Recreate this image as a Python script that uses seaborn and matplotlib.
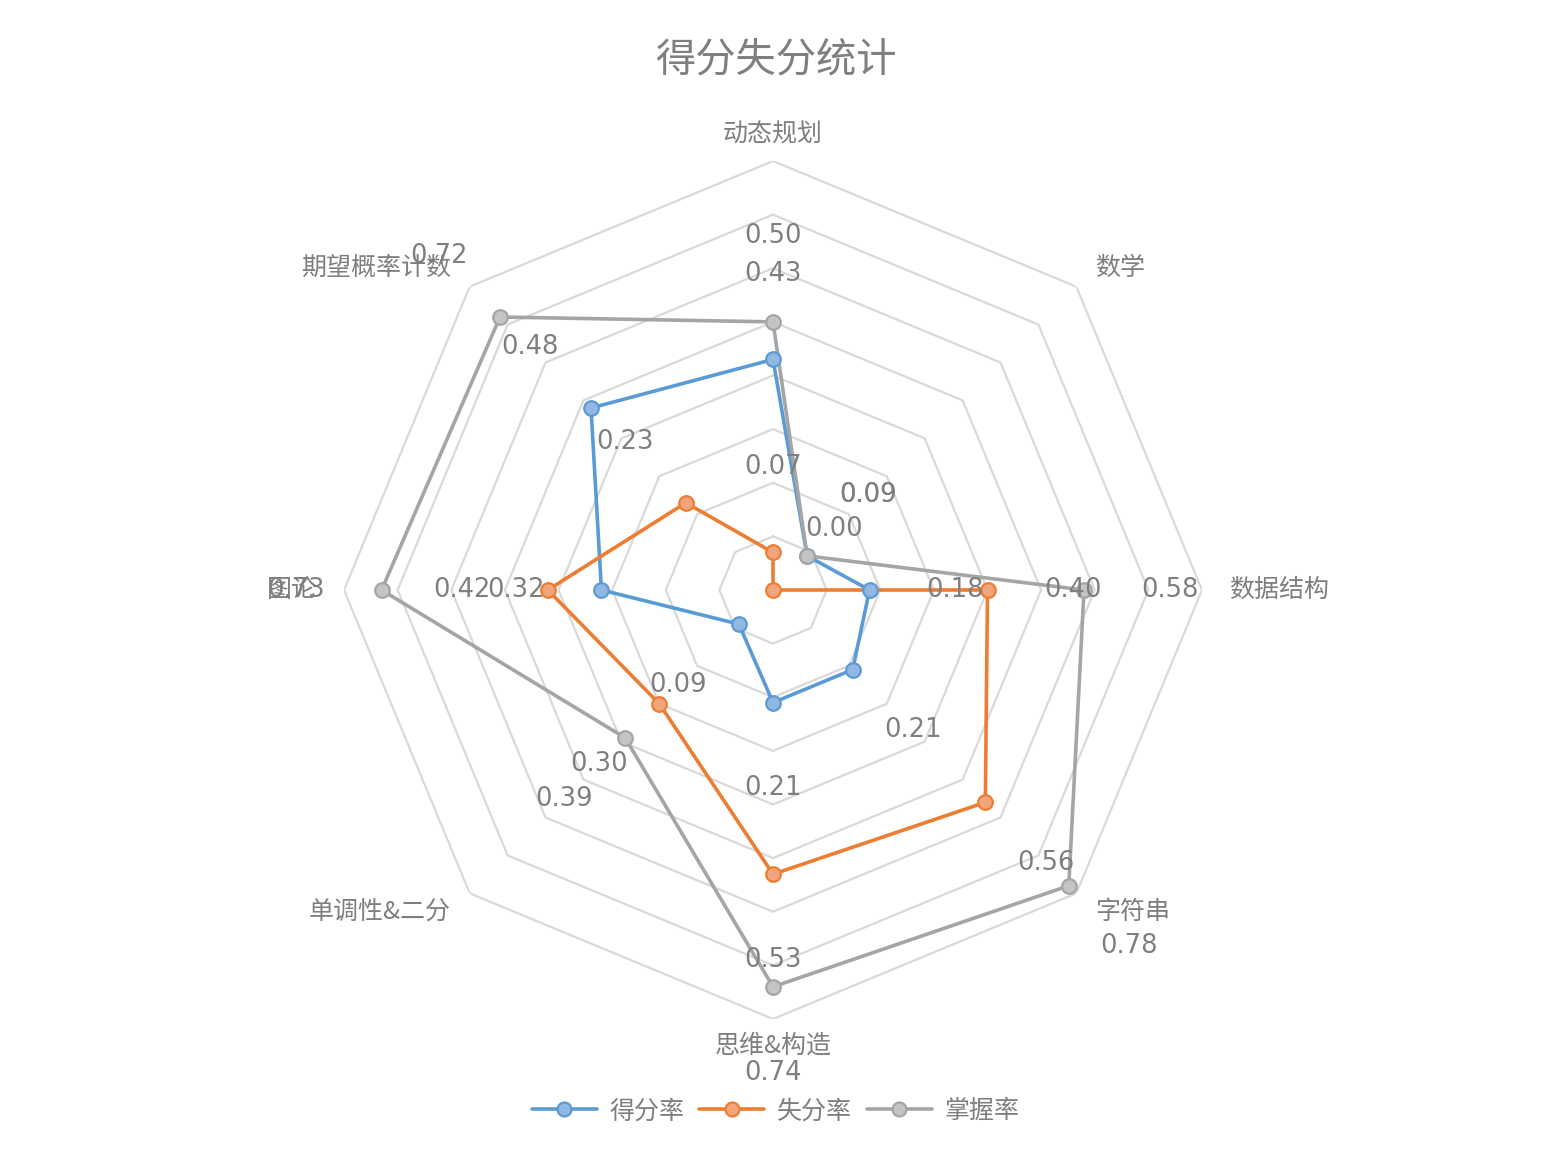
import numpy as np
import pandas as pd
import seaborn as sns
import matplotlib
matplotlib.use('Agg')
import matplotlib.pyplot as plt

# 数据
categories = ['动态规划', '数学', '数据结构', '字符串', '思维&构造', '单调性&二分', '图论', '期望概率计数']
defen = [0.43, 0.09, 0.18, 0.21, 0.21, 0.09, 0.32, 0.48]   # 得分率
shifen = [0.07, 0.00, 0.40, 0.56, 0.53, 0.30, 0.42, 0.23]  # 失分率
zhangwo = [0.50, 0.09, 0.58, 0.78, 0.74, 0.39, 0.73, 0.72]  # 掌握率
series_names = ['得分率', '失分率', '掌握率']
grid_levels = [0.1, 0.2, 0.3, 0.4, 0.5, 0.6, 0.7, 0.8]

sns.set_theme(style='white')
plt.rcParams['font.family'] = ['Noto Sans CJK SC', 'DejaVu Sans']

line_colors = ['#5b9bd5', '#ed7d31', '#a5a5a5']
face_colors = ['#90b8e3', '#f2a57c', '#c4c4c4']
text_color = '#7f7f7f'

n = len(categories)
theta = np.linspace(0, 2 * np.pi, n, endpoint=False)
theta_closed = np.append(theta, 2 * np.pi)

rows = []
for name, vals in zip(series_names, [defen, shifen, zhangwo]):
    vals_closed = list(vals) + [vals[0]]
    for t, v in zip(theta_closed, vals_closed):
        rows.append({'系列': name, 'theta': t, 'value': v})
df = pd.DataFrame(rows)

fig = plt.figure(figsize=(15.51, 11.66), dpi=100)
ax = fig.add_axes([0.2218, 0.1261, 0.5532, 0.7358], projection='polar')
ax.set_theta_zero_location('N')
ax.set_theta_direction(-1)

# 八边形网格
for lv in grid_levels:
    ax.plot(theta_closed, [lv] * (n + 1), color='#d9d9d9', lw=1.6, zorder=1)

sns.lineplot(data=df, x='theta', y='value', hue='系列', sort=False, estimator=None,
             palette=line_colors, linewidth=2.6, ax=ax, legend=False, zorder=3)

handles = []
for name, vals, lc, fc in zip(series_names, [defen, shifen, zhangwo], line_colors, face_colors):
    ax.scatter(theta, vals, s=110, color=fc, edgecolor=lc, linewidth=1.6, zorder=4)
    h, = ax.plot([], [], color=lc, lw=2.6, marker='o', markersize=10,
                 markerfacecolor=fc, markeredgecolor=lc, markeredgewidth=1.6, label=name)
    handles.append(h)
    for t, v in zip(theta, vals):
        ax.text(t, v + 0.16, f'{v:.2f}', ha='center', va='center',
                fontsize=18.5, color=text_color, family='DejaVu Sans', zorder=5)

for t, c in zip(theta, categories):
    s = np.sin(t)
    if abs(s) < 1e-6:
        ha = 'center'
    elif s > 0:
        ha = 'left'
    else:
        ha = 'right'
    ax.text(t, 0.85, c, ha=ha, va='center', fontsize=18, color=text_color)

ax.set_ylim(0, 0.8)
ax.set_xticks([])
ax.set_yticks([])
ax.set_xlabel('')
ax.set_ylabel('')
ax.grid(False)
ax.spines['polar'].set_visible(False)
ax.patch.set_alpha(0)

fig.text(0.5, 0.9485, '得分失分统计', ha='center', va='center', fontsize=29, color='#7f7f7f')

fig.legend(handles=handles, loc='center', bbox_to_anchor=(0.5, 0.047), ncol=3,
           frameon=False, fontsize=18, handlelength=2.6, columnspacing=0.6,
           handletextpad=0.5, labelcolor=text_color)

fig.savefig('out.png', dpi=100)
